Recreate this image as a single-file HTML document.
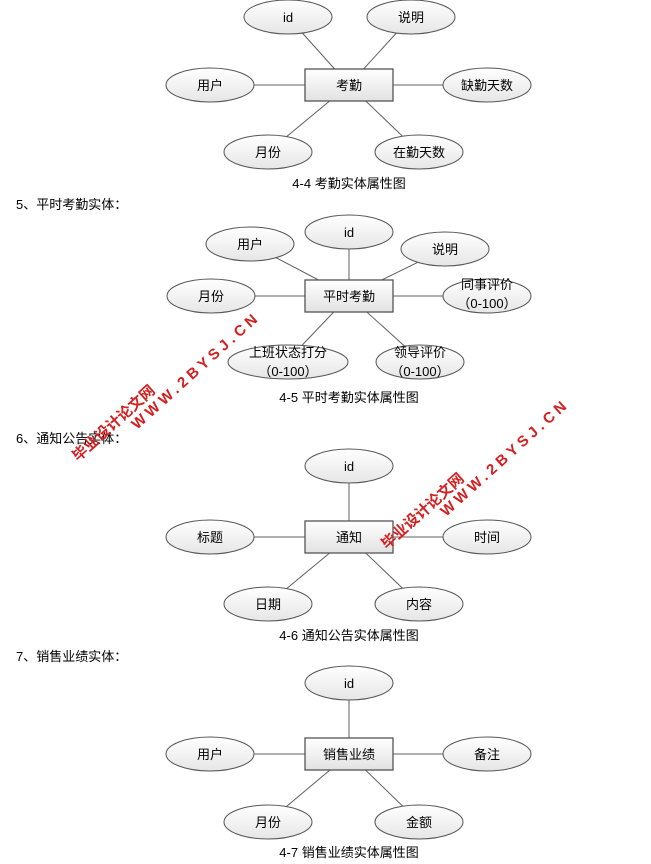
<!DOCTYPE html>
<html><head><meta charset="utf-8"><style>
body{margin:0;background:#fff}
svg{display:block}
text{font-family:"Liberation Sans","Noto Sans CJK SC",sans-serif;font-size:13px;fill:#000}
.c{text-anchor:middle}
.wm{font-family:"Liberation Sans","Noto Sans CJK SC",sans-serif;font-weight:bold;fill:#d42020;font-size:15px}
</style></head><body>
<svg width="651" height="864" viewBox="0 0 651 864">
<defs>
<linearGradient id="eg" x1="0" y1="0" x2="0" y2="1"><stop offset="0" stop-color="#ffffff"/><stop offset="1" stop-color="#e6e6e6"/></linearGradient>
<linearGradient id="rg" x1="0" y1="0" x2="0" y2="1"><stop offset="0" stop-color="#ffffff"/><stop offset="1" stop-color="#e2e2e2"/></linearGradient>
</defs>
<g stroke="#606060" stroke-width="1">
<line x1="349" y1="85" x2="288" y2="17"/><line x1="349" y1="85" x2="411" y2="17"/>
<line x1="349" y1="85" x2="210" y2="85"/><line x1="349" y1="85" x2="487" y2="85"/>
<line x1="349" y1="85" x2="268" y2="152"/><line x1="349" y1="85" x2="419" y2="152"/>
<line x1="349" y1="296" x2="349" y2="232"/><line x1="349" y1="296" x2="250" y2="244"/>
<line x1="349" y1="296" x2="445" y2="249"/><line x1="349" y1="296" x2="211" y2="296"/>
<line x1="349" y1="296" x2="487" y2="296"/><line x1="349" y1="296" x2="288" y2="360"/>
<line x1="349" y1="296" x2="420" y2="360"/>
<line x1="349" y1="537" x2="349" y2="466"/><line x1="349" y1="537" x2="210" y2="537"/>
<line x1="349" y1="537" x2="487" y2="537"/><line x1="349" y1="537" x2="268" y2="604"/>
<line x1="349" y1="537" x2="419" y2="604"/>
<line x1="349" y1="754" x2="349" y2="683"/><line x1="349" y1="754" x2="210" y2="754"/>
<line x1="349" y1="754" x2="487" y2="754"/><line x1="349" y1="754" x2="268" y2="822"/>
<line x1="349" y1="754" x2="419" y2="822"/>
</g>
<g fill="url(#eg)" stroke="#555" stroke-width="1">
<ellipse cx="288" cy="17" rx="44" ry="17"/><ellipse cx="411" cy="17" rx="44" ry="17"/>
<ellipse cx="210" cy="85" rx="44" ry="17"/><ellipse cx="487" cy="85" rx="44" ry="17"/>
<ellipse cx="268" cy="152" rx="44" ry="17"/><ellipse cx="419" cy="152" rx="44" ry="17"/>
<ellipse cx="349" cy="232" rx="44" ry="17"/><ellipse cx="250" cy="244" rx="44" ry="17"/>
<ellipse cx="445" cy="249" rx="44" ry="17"/><ellipse cx="211" cy="296" rx="44" ry="17"/>
<ellipse cx="487" cy="296" rx="44" ry="17"/><ellipse cx="288" cy="362" rx="60" ry="17"/>
<ellipse cx="420" cy="362" rx="44" ry="17"/>
<ellipse cx="349" cy="466" rx="44" ry="17"/><ellipse cx="210" cy="537" rx="44" ry="17"/>
<ellipse cx="487" cy="537" rx="44" ry="17"/><ellipse cx="268" cy="604" rx="44" ry="17"/>
<ellipse cx="419" cy="604" rx="44" ry="17"/>
<ellipse cx="349" cy="683" rx="44" ry="17"/><ellipse cx="210" cy="754" rx="44" ry="17"/>
<ellipse cx="487" cy="754" rx="44" ry="17"/><ellipse cx="268" cy="822" rx="44" ry="17"/>
<ellipse cx="419" cy="822" rx="44" ry="17"/>
</g>
<g fill="url(#rg)" stroke="#555" stroke-width="1.3">
<rect x="305" y="69" width="88" height="32"/>
<rect x="305" y="280" width="88" height="32"/>
<rect x="305" y="521" width="88" height="32"/>
<rect x="305" y="738" width="88" height="32"/>
</g>
<g>
<text class="c" x="288" y="22">id</text><text class="c" x="411" y="22">说明</text>
<text class="c" x="210" y="90">用户</text><text class="c" x="349" y="90">考勤</text><text class="c" x="487" y="90">缺勤天数</text>
<text class="c" x="268" y="157">月份</text><text class="c" x="419" y="157">在勤天数</text>
<text class="c" x="349" y="188">4-4 考勤实体属性图</text>
<text class="c" x="349" y="237">id</text><text class="c" x="250" y="249">用户</text><text class="c" x="445" y="254">说明</text>
<text class="c" x="211" y="301">月份</text><text class="c" x="349" y="301">平时考勤</text>
<text class="c" x="487" y="289">同事评价</text><text class="c" x="487" y="308">（0-100）</text>
<text class="c" x="288" y="357">上班状态打分</text><text class="c" x="288" y="376">（0-100）</text>
<text class="c" x="420" y="357">领导评价</text><text class="c" x="420" y="376">（0-100）</text>
<text class="c" x="349" y="402">4-5 平时考勤实体属性图</text>
<text class="c" x="349" y="471">id</text><text class="c" x="210" y="542">标题</text>
<text class="c" x="349" y="542">通知</text><text class="c" x="487" y="542">时间</text>
<text class="c" x="268" y="609">日期</text><text class="c" x="419" y="609">内容</text>
<text class="c" x="349" y="640">4-6 通知公告实体属性图</text>
<text class="c" x="349" y="688">id</text><text class="c" x="210" y="759">用户</text>
<text class="c" x="349" y="759">销售业绩</text><text class="c" x="487" y="759">备注</text>
<text class="c" x="268" y="827">月份</text><text class="c" x="419" y="827">金额</text>
<text class="c" x="349" y="857">4-7 销售业绩实体属性图</text>
</g>
<text x="16" y="209">5、平时考勤实体：</text>
<text x="16" y="443">6、通知公告实体：</text>
<text x="16" y="661">7、销售业绩实体：</text>
<g>
<text class="wm" transform="translate(78,462) rotate(-42)">毕业设计论文网</text>
<text class="wm" transform="translate(137,430) rotate(-42)" letter-spacing="4">WWW.2BYSJ.CN</text>
<text class="wm" transform="translate(387,550) rotate(-42)">毕业设计论文网</text>
<text class="wm" transform="translate(446,517) rotate(-42)" letter-spacing="4">WWW.2BYSJ.CN</text>
</g>
</svg>
</body></html>
